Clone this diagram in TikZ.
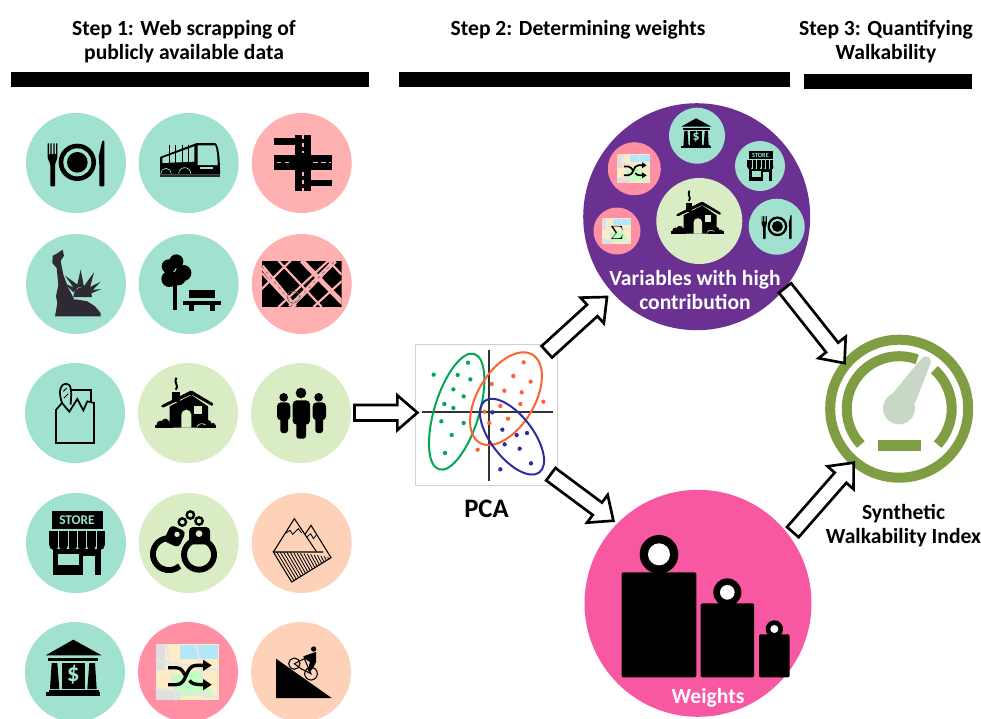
\documentclass[tikz,border=0pt]{standalone}
\usepackage{fontspec}
\setmainfont{Carlito}
\usetikzlibrary{calc}
\definecolor{mint}{RGB}{160,226,207}
\definecolor{rose}{RGB}{255,176,176}
\definecolor{leaf}{RGB}{217,236,196}
\definecolor{peach}{RGB}{253,210,184}
\definecolor{coral}{RGB}{255,144,163}
\definecolor{violet}{RGB}{106,48,146}
\definecolor{magenta2}{RGB}{248,87,162}
\definecolor{olive2}{RGB}{127,158,68}
\definecolor{needle}{RGB}{201,216,198}
\definecolor{pcagreen}{RGB}{0,168,85}
\definecolor{pcaorange}{RGB}{255,98,50}
\definecolor{pcablue}{RGB}{44,44,160}
\definecolor{ink}{RGB}{46,42,51}
\tikzset{
  every picture/.style={line width=0.75pt},
  disc/.style={circle,inner sep=0pt,minimum size=#1*0.75pt},
  disc/.default=100,
  headtext/.style={font=\fontsize{16.2}{18}\selectfont\bfseries,align=center,inner sep=0pt},
  whitetext/.style={headtext,text=white},
  topbar/.style={fill=black},
  z/.style 2 args={scale=1/3,yscale=-1,shift={(-#1,-#2)}},
  blockarrow/.style={draw=black,fill=white,line width=2pt,miter limit=10,
    to path={($(\tikztostart)!5.8pt!90:(\tikztotarget)$)
      -- ($($(\tikztotarget)!15pt!(\tikztostart)$)!5.8pt!90:(\tikztotarget)$)
      -- ($($(\tikztotarget)!15pt!(\tikztostart)$)!13pt!90:(\tikztotarget)$)
      -- (\tikztotarget)
      -- ($($(\tikztotarget)!15pt!(\tikztostart)$)!13pt!-90:(\tikztotarget)$)
      -- ($($(\tikztotarget)!15pt!(\tikztostart)$)!5.8pt!-90:(\tikztotarget)$)
      -- ($(\tikztostart)!5.8pt!-90:(\tikztotarget)$) -- cycle}},
  pics/dining/.style={code={
    \begin{scope}[scale=#1,z={228}{190}]
      \fill (232,188) circle[radius=56];
      \fill[mint] (232,188) circle[radius=42];
      \fill (232,188) circle[radius=31];
      \fill[rounded corners=0.6pt] (143,130) -- (147,130) -- (147,165) -- (151,165) -- (151,130) -- (155,130) -- (155,165) -- (160,165) -- (160,130) -- (164,130) -- (164,165) -- (168,165) -- (168,130) -- (172,130) -- (172,175) -- (165,195) -- (165,260) -- (151,260) -- (151,195) -- (143,175) -- cycle;
      \fill[rounded corners=0.6pt] (307,123) -- (313,123) -- (313,260) -- (298,260) -- (298,195) -- (296,170) -- cycle;
    \end{scope}}},
  pics/bus/.style={code={
    \begin{scope}[z={566}{190}]
      \fill (480,172) -- (590,130) -- (645,130) .. controls (657,135) and (660,180) .. (660,225) -- (480,225) -- cycle;
      \fill[mint] (487,175) -- (583,140) -- (583,186) -- (487,190) -- cycle;
      \fill[mint] (593,137) -- (645,137) .. controls (650,145) and (652,170) .. (653,196) -- (593,196) -- cycle;
      \foreach \sx in {508,527,546,565} \draw[line width=0.8pt] (\sx,135) -- (\sx,195);
      \fill[mint] (600,203) rectangle (640,207);
      \draw[mint,line width=0.5pt] (482,222) arc[start angle=180,end angle=360,radius=16];
      \draw[mint,line width=0.5pt] (536,222) arc[start angle=180,end angle=360,radius=18];
      \fill[ink] (480,226) rectangle (660,232);
    \end{scope}}},
  pics/cross/.style={code={
    \begin{scope}[z={905}{190}]
      \fill (885,105) rectangle (933,275);
      \fill (823,115) rectangle (905,135);
      \fill (823,167) rectangle (995,212);
      \fill (933,240) rectangle (995,260);
      \draw[rose,line width=1pt,dash pattern=on 3pt off 3pt] (909,107) -- (909,160);
      \draw[rose,line width=1pt,dash pattern=on 3pt off 3pt] (909,218) -- (909,274);
      \draw[rose,line width=1pt,dash pattern=on 3.5pt off 2.5pt] (830,188) -- (878,188);
      \draw[rose,line width=1pt,dash pattern=on 3.5pt off 2.5pt] (940,188) -- (992,188);
    \end{scope}}},
  pics/statue/.style={code={
    \begin{scope}[z={228}{553}]
      \fill[ink] (158,468) -- (170,462) -- (188,450) -- (192,468) -- (182,484) -- (190,525) -- (205,565) -- (222,598) -- (262,605) -- (285,620) -- (302,640) -- (302,650) -- (165,650) -- (172,610) -- (168,590) -- (175,555) -- (170,505) -- (157,490) -- cycle;
      \fill[ink] (220,592) arc[start angle=180,end angle=360,x radius=28,y radius=30] -- cycle;
      \fill[ink] (230,562) -- (242,510) -- (252,562) -- cycle;
      \fill[ink] (250,562) -- (282,518) -- (268,572) -- cycle;
      \fill[ink] (262,566) -- (302,546) -- (272,578) -- cycle;
      \fill[ink] (268,572) -- (304,568) -- (272,582) -- cycle;
      \fill[ink] (225,570) -- (195,528) -- (240,560) -- cycle;
      \fill[ink] (220,578) -- (195,552) -- (232,568) -- cycle;
      \draw[mint,line width=0.6pt] (222,599) .. controls (240,590) and (262,594) .. (282,610);
    \end{scope}}},
  pics/parkbench/.style={code={
    \begin{scope}[z={566}{553}]
      \fill (529,485) circle[radius=21] (506,500) circle[radius=21] (550,520) circle[radius=24] (508,538) circle[radius=24] (535,535) circle[radius=22];
      \fill (520,540) rectangle (532,632);
      \fill (567,572) rectangle (646,596);
      \fill (548,603) rectangle (664,617);
      \fill (568,617) rectangle (582,634);
      \fill (631,617) rectangle (645,634);
    \end{scope}}},
  pics/streetgrid/.style={code={
    \begin{scope}[z={905}{553}]
      \begin{scope}
        \clip (785,483) rectangle (1025,622);
        \fill (785,483) rectangle (1025,622);
        \draw[rose,line width=1.6pt] (785,568) -- (872,483) (835,622) -- (985,483) (940,622) -- (1030,540);
        \draw[rose,line width=1.6pt] (785,520) -- (880,622) (835,483) -- (965,622) (985,483) -- (1025,525);
        \draw[rose,line width=3.6pt] (870,622) -- (1005,483);
        \draw[rose,line width=3.6pt] (905,483) -- (1030,612);
        \draw[rose,line width=3.6pt] (785,500) -- (885,622);
        \draw[mint!40!black,line width=0.35pt,dash pattern=on 2pt off 3pt] (785,500) -- (885,622) (870,622) -- (1005,483);
      \end{scope}
      \draw[mint!50!black,line width=0.4pt] (880,592) circle[radius=18];
    \end{scope}}},
  pics/grocery/.style={code={
    \begin{scope}[z={225}{190},line width=1.3pt]
      \draw (168,178) -- (168,280) -- (282,280) -- (282,158);
      \draw (170,178) -- (186,160) -- (208,186) -- (232,148) -- (250,182) -- (262,155) -- (282,160);
      \draw (186,160) .. controls (172,120) and (185,102) .. (198,102) .. controls (215,102) and (215,125) .. (212,165);
      \draw (213,122) -- (273,122) -- (273,158);
      \draw[line width=0.7pt] (190,125) -- (200,115) (192,145) -- (205,132);
    \end{scope}}},
  pics/house/.style={code={
    \begin{scope}[scale=#1,z={565}{190}]
      \fill (510,234) -- (510,170) -- (575,136) -- (625,170) -- (625,234) -- cycle;
      \fill (518,128) rectangle (540,158);
      \fill[rounded corners=1pt] (483,168) -- (575,122) -- (642,162) -- (639,170) -- (575,134) -- (488,175) -- cycle;
      \fill[leaf] (545,234) -- (545,195) arc[start angle=180,end angle=360,radius=15] -- (575,234) -- cycle;
      \fill[leaf] (584,170) rectangle (606,192);
      \fill (482,224) circle[radius=11] (497,219) circle[radius=12] (510,225) circle[radius=10];
      \fill (608,224) circle[radius=11] (625,221) circle[radius=10] (640,227) circle[radius=7];
      \fill (465,226) rectangle (520,234);
      \fill (595,226) rectangle (650,234);
      \draw[leaf,line width=#1*0.5pt] (592,230) .. controls (600,218) and (612,222) .. (618,226);
      \draw[line width=#1*1.5pt] (528,120) .. controls (540,108) and (522,104) .. (530,84);
    \end{scope}}},
  pics/people/.style={code={
    \begin{scope}[z={905}{190}]
      \fill (905,130) circle[radius=16];
      \fill (853,143) circle[radius=13];
      \fill (958,143) circle[radius=13];
      \fill[rounded corners=3pt] (880,152) rectangle (932,225);
      \fill[rounded corners=2pt] (891,200) rectangle (920,267);
      \fill[rounded corners=3pt] (833,158) rectangle (873,212);
      \fill[rounded corners=2pt] (843,195) rectangle (866,250);
      \fill[rounded corners=3pt] (940,158) rectangle (980,212);
      \fill[rounded corners=2pt] (948,195) rectangle (971,250);
    \end{scope}}},
  pics/store/.style={code={
    \begin{scope}[scale=#1,z={228}{578}]
      \pgfmathsetmacro\storefs{10*#1}
      \fill (155,482) rectangle (308,535);
      \node[text=mint,inner sep=0pt,font=\fontsize{\storefs}{\storefs}\selectfont\bfseries] (storeSign) at (231,510) {STORE};
      \fill (148,541) rectangle (314,585);
      \foreach \sx in {162,190,218,246,274,300} \fill (\sx,585) circle[radius=14];
      \foreach \sx in {176,204,232,260,288} \draw[mint,line width=#1*0.4pt] (\sx,541) -- (\sx,595);
      \fill (160,596) rectangle (303,673);
      \fill[mint] (175,610) rectangle (237,645);
      \fill[mint] (250,617) rectangle (285,673);
    \end{scope}}},
  pics/handcuffs/.style={code={
    \begin{scope}[z={566}{578}]
      \draw[line width=4.4pt] (597,613) circle[radius=45];
      \draw[line width=4.4pt] (527,568) arc[start angle=-65,end angle=-312,radius=48];
      \fill[rounded corners=3pt] (567,530) rectangle (630,582);
      \fill[leaf] (597,550) circle[radius=10];
      \fill[rounded corners=3pt,rotate around={25:(527,552)}] (502,532) rectangle (552,585);
      \fill[leaf] (531,552) circle[radius=8];
      \foreach \cx/\cy in {547/515,571/494,597/512} {
        \draw[line width=1.8pt] (\cx,\cy) circle[radius=11];
      }
    \end{scope}}},
  pics/mountain/.style={code={
    \begin{scope}[z={905}{578},line width=0.8pt]
      \draw (820,605) -- (883,505) -- (950,605);
      \draw (915,552) -- (933,525) -- (993,622) -- (875,695) -- (820,605) -- (970,605);
      \draw[line width=0.6pt] (858,548) -- (870,540) -- (878,552) -- (895,535) -- (905,548);
      \draw[line width=0.6pt] (920,560) -- (932,550) -- (940,565) -- (948,555);
      \foreach \t in {1,...,16} {
        \draw[line width=0.6pt] ({820+173*\t/17},{605+\t*\t/17}) -- ({875+118*\t/17},{695-73*\t/17});
      }
    \end{scope}}},
  pics/bank/.style={code={
    \begin{scope}[scale=#1,z={225}{965}]
      \pgfmathsetmacro\bankfs{19*#1}
      \fill (137,915) -- (220,868) -- (305,915) -- cycle;
      \fill (145,923) rectangle (295,932);
      \fill (155,938) -- (172,938) -- (178,1016) -- (150,1016) -- cycle;
      \fill (268,938) -- (285,938) -- (290,1016) -- (262,1016) -- cycle;
      \fill (185,938) rectangle (255,1016);
      \fill (146,1019) rectangle (297,1024);
      \fill (138,1024) rectangle (300,1036);
      \node[text=mint,inner sep=0pt,font=\fontsize{\bankfs}{\bankfs}\selectfont\bfseries] (bankSign) at (220,972) {\$};
    \end{scope}}},
  pics/shuffle/.style={code={
    \begin{scope}[scale=#1,z={565}{965}]
      \draw[line width=#1*2.5pt] (505,1003) -- (530,1003) .. controls (565,1003) and (555,945) .. (590,945) -- (612,945);
      \draw[line width=#1*2.5pt] (505,952) -- (530,952) .. controls (548,952) and (552,970) .. (560,980);
      \draw[line width=#1*2.5pt] (570,990) .. controls (575,1000) and (585,1003) .. (612,1003);
      \fill (610,928) -- (636,945) -- (610,962) -- cycle;
      \fill (610,986) -- (636,1003) -- (610,1020) -- cycle;
    \end{scope}}},
  pics/streetmap/.style={code={
    \begin{scope}[scale=#1,z={565}{965}]
      \fill[yellow!35!orange!20!white] (468,882) rectangle (658,1050);
      \fill[cyan!30!white] (540,885) rectangle (655,925);
      \fill[green!25!white] (520,975) -- (600,960) -- (640,1030) -- (530,1040) -- cycle;
      \fill[gray!25] (468,1020) rectangle (540,1050);
      \fill[gray!25] (468,882) rectangle (495,960);
      \draw[gray!20,line width=#1*1.6pt] (468,930) -- (658,960) (500,882) -- (530,1050) (590,882) -- (620,1050) (468,1015) -- (658,1040);
    \end{scope}}},
  pics/slopebike/.style={code={
    \begin{scope}[z={905}{965}]
      \fill (830,925) -- (997,1043) -- (830,1043) -- cycle;
      \draw[line width=0.8pt] (885,940) circle[radius=17];
      \draw[line width=0.8pt] (935,970) circle[radius=19];
      \fill (943,896) circle[radius=8];
      \fill (912,918) -- (940,908) -- (950,905) -- (950,935) -- (940,955) -- (930,965) -- (925,960) -- (932,935) -- (915,925) -- cycle;
      \draw[line width=0.8pt] (885,940) -- (915,925) -- (935,970) -- (905,955) -- cycle;
    \end{scope}}},
}

\begin{document}
\begin{tikzpicture}[x=0.75pt,y=0.75pt,yscale=-1,xscale=1]
\useasboundingbox (0,0) rectangle (981,718);

%Top Bars
\fill[topbar] (11,72) rectangle (369,87);
\fill[topbar] (399,72) rectangle (790,87);
\fill[topbar] (804,74) rectangle (972,89);

% Text Node
\node[headtext] (stepOne) at (184,42) {Step 1: Web scrapping of\\publicly available data};
% Text Node
\node[headtext] (stepTwo) at (578,29.5) {Step 2: Determining weights};
% Text Node
\node[headtext] (stepThree) at (886,42) {Step 3: Quantifying\\Walkability};

%Shape: Circles of the first step
\node[disc,fill=mint] (dining) at (76,163) {};
\node[disc,fill=mint] (bus) at (188.7,163) {};
\node[disc,fill=rose] (crossing) at (301.7,163) {};
\node[disc,fill=mint] (statue) at (76,284) {};
\node[disc,fill=mint] (park) at (188.7,284) {};
\node[disc,fill=rose] (blocks) at (301.7,284) {};
\node[disc,fill=mint] (grocery) at (75,413) {};
\node[disc,fill=leaf] (housing) at (188,413) {};
\node[disc,fill=leaf] (people) at (301,413) {};
\node[disc,fill=mint] (shop) at (76,543) {};
\node[disc,fill=leaf] (crime) at (188.7,543) {};
\node[disc,fill=peach] (terrain) at (301.7,543) {};
\node[disc,fill=mint] (bank) at (75,672) {};
\node[disc,fill=coral] (mixing) at (188,672) {};
\node[disc,fill=peach] (slope) at (301,672) {};

%Icons of the first step
\pic at (dining) {dining=1};
\pic at (bus) {bus};
\pic at (crossing) {cross};
\pic at (statue) {statue};
\pic at (park) {parkbench};
\pic at (blocks) {streetgrid};
\pic at (grocery) {grocery};
\pic at (housing) {house=1};
\pic at (people) {people};
\pic at (shop) {store=1};
\pic at (crime) {handcuffs};
\pic at (terrain) {mountain};
\pic at (bank) {bank=1};
\pic at (mixing) {streetmap=1};
\pic at (mixing) {shuffle=1};
\pic at (slope) {slopebike};

%Shape: PCA panel
\node[draw=black!18,line width=0.8pt,minimum size=106pt,inner sep=0pt] (pca) at (486.6,415) {};
\begin{scope}[shift={(350,330)},scale=1/3]
  \draw[black!80,line width=1.4pt] (418,60) -- (418,452);
  \draw[black!80,line width=1.4pt] (215,247) -- (608,247);
  \foreach \px/\py in {354/98,251/134,323/135,361/148,310/178,341/199,283/222,310/234,274/274,341/279,305/315,285/369} \fill[pcagreen] (\px,\py) circle[radius=6.5];
  \foreach \px/\py in {521/97,490/138,542/155,425/162,463/182,515/187,511/222,451/228,580/215,403/245,474/266,418/279,383/359} \fill[pcaorange] (\px,\py) circle[radius=6.5];
  \foreach \px/\py in {427/247,457/299,531/309,500/315,464/343,509/356,543/400,451/418} \fill[pcablue] (\px,\py) circle[radius=6.5];
  \draw[pcagreen,line width=1.5pt] (320,245) circle[x radius=67,y radius=181,rotate=17];
  \draw[pcaorange,line width=1.5pt] (468,206) circle[x radius=85,y radius=154,rotate=31];
  \draw[pcablue,line width=1.5pt] (486,320) circle[x radius=63,y radius=135,rotate=-37.5];
\end{scope}
% Text Node
\node[headtext,font=\fontsize{20}{20}\selectfont\bfseries] (pcaLabel) at (486.5,509) {PCA};

%Shape: Circle of the variables
\node[disc=227,fill=violet] (variables) at (696.7,216.7) {};
\node[disc=86,fill=leaf] (varHouse) at (699.3,221) {};
\node[disc=56,fill=mint] (varBank) at (697,135.7) {};
\node[disc=50,fill=mint] (varStore) at (760,166) {};
\node[disc=56,fill=mint] (varDining) at (776.7,226.7) {};
\node[disc=53,fill=coral] (varMixing) at (634.3,168.7) {};
\node[disc=47,fill=coral] (varDiversity) at (617,231) {};
\pic at (varHouse) {house=0.86};
\pic at (varBank) {bank=0.54};
\pic at (varStore) {store=0.47};
\pic at (varDining) {dining=0.53};
\pic at (varMixing) {streetmap=0.52};
\pic at (varMixing) {shuffle=0.52};
\pic at (varDiversity) {streetmap=0.46};
\node[inner sep=0pt,font=\fontsize{14}{14}\selectfont] (sigma) at (617,233) {$\Sigma$};
% Text Node
\node[whitetext] (variablesLabel) at (695,290) {Variables with high\\contribution};

%Shape: Circle of the weights
\node[disc=227,fill=magenta2] (weights) at (698,603.3) {};
\begin{scope}[shift={(570,480)},scale=1/3]
  \fill[rounded corners=1pt] (155,277) rectangle (379,592);
  \fill[rounded corners=1pt] (392,370) rectangle (552,592);
  \fill[rounded corners=1pt] (567,463) rectangle (659,592);
  \fill (267,223) circle[radius=58] (472,337) circle[radius=42] (613,447) circle[radius=26];
  \fill[white] (267,223) circle[radius=33] (472,337) circle[radius=22] (613,447) circle[radius=12];
\end{scope}
% Text Node
\node[whitetext] (weightsLabel) at (708,697.5) {Weights};

%Shape: Gauge
\node[disc=138,draw=olive2,line width=7.5pt] (gauge) at (899.2,408.7) {};
\draw[olive2,line width=7.5pt] (gauge.center) ++(137:52.5) arc[start angle=137,end angle=290,radius=52.5];
\draw[olive2,line width=7.5pt] (gauge.center) ++(312:52.5) arc[start angle=312,end angle=403,radius=52.5];
\begin{scope}[shift={(780,280)},scale=1/3]
  \fill[olive2] (293,480) rectangle (422,512);
  \fill[needle] (357,385) circle[radius=48];
  \fill[needle] (330,350) -- (422,238) -- (452,250) -- (405,370) -- cycle;
  \fill[needle] (437,245) circle[radius=16];
\end{scope}
% Text Node
\node[headtext] (gaugeLabel) at (903.5,526) {Synthetic\\Walkability Index};

%Connector ends
\coordinate (peopleOut) at ([shift={(3,-0.3)}]people.east);
\coordinate (pcaIn) at ([shift={(2,-2.3)}]pca.west);
\coordinate (pcaUp) at ([shift={(-11,8)}]pca.north east);
\coordinate (variablesIn) at ([shift={(-5,4)}]variables.222);
\coordinate (pcaDown) at ([shift={(-7,-12)}]pca.south east);
\coordinate (weightsIn) at ([shift={(-4,-2)}]weights.135);
\coordinate (variablesOut) at ([shift={(1,-2)}]variables.-40);
\coordinate (gaugeTop) at ([shift={(2,2)}]gauge.140);
\coordinate (weightsOut) at ([shift={(5,-1)}]weights.38);
\coordinate (gaugeBottom) at ([shift={(4,-1)}]gauge.228);

%Block Arrows
\draw[blockarrow] (peopleOut) to (pcaIn);
\draw[blockarrow] (pcaUp) to (variablesIn);
\draw[blockarrow] (pcaDown) to (weightsIn);
\draw[blockarrow] (variablesOut) to (gaugeTop);
\draw[blockarrow] (weightsOut) to (gaugeBottom);

\end{tikzpicture}
\end{document}
